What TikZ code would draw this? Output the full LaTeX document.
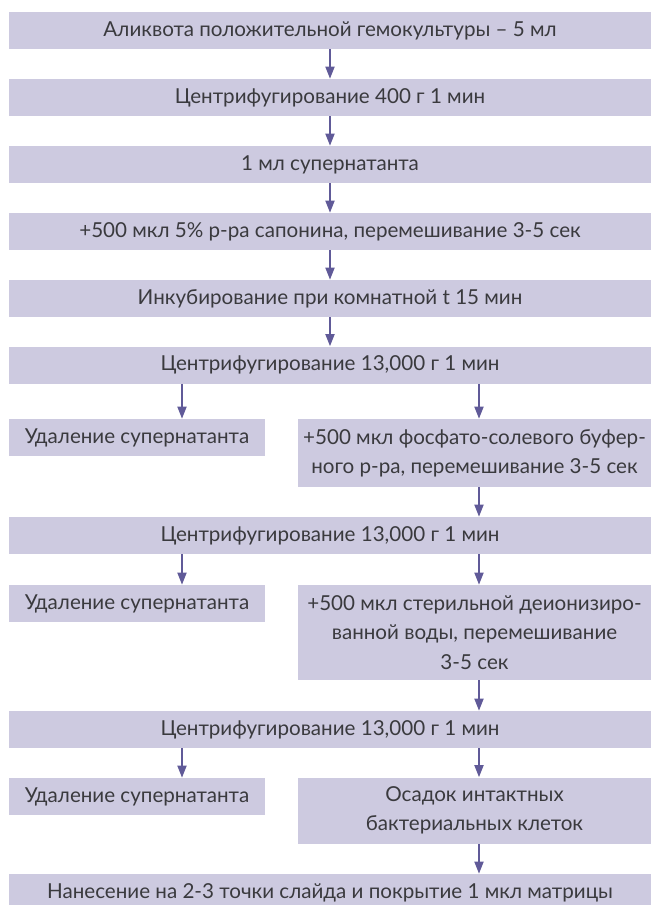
\documentclass[tikz,border=0pt]{standalone}
\usepackage{fontspec}
\setmainfont{Lato}
\usepackage{tikz}
\usetikzlibrary{arrows.meta,positioning,calc}
\usepackage{xcolor}
\definecolor{boxlilac}{RGB}{205,202,224}
\definecolor{arrowplum}{RGB}{96,90,152}
\definecolor{textgrey}{RGB}{58,58,62}

\begin{document}
\begin{tikzpicture}[x=0.5pt,y=-0.5pt,
    stepbox/.style={fill=boxlilac, text=textgrey, inner sep=0pt, align=center,
        font=\fontsize{10.3}{14.6}\selectfont},
    mainbox/.style={stepbox, minimum width=321pt, minimum height=18.5pt},
    leftbox/.style={stepbox, minimum width=128pt, minimum height=18.5pt},
    rightbox/.style={stepbox, minimum width=176.5pt},
    arr/.style={draw=arrowplum, line width=0.6pt, -{Triangle[length=6pt,width=4.6pt,fill=arrowplum]}}]
    \useasboundingbox (0,0) rectangle (650,905);

    % --- Main column ---
    \node[mainbox] (m1) at (330,30.5) {Аликвота положительной гемокультуры – 5 мл};
    \node[mainbox] (m2) at (330,97.5) {Центрифугирование 400 г 1 мин};
    \node[mainbox] (m3) at (330,164.5) {1 мл супернатанта};
    \node[mainbox] (m4) at (330,231.5) {+500 мкл 5\% р-ра сапонина, перемешивание 3-5 сек};
    \node[mainbox] (m5) at (330,298.5) {Инкубирование при комнатной t 15 мин};
    \node[mainbox] (m6) at (330,365) {Центрифугирование 13,000 г 1 мин};

    % --- First split ---
    \node[leftbox] (la) at (137,437.5) {Удаление супернатанта};
    \node[rightbox, minimum height=34pt] (ra) at (474.5,453)
        {+500 мкл фосфато-солевого буфер-\\ного р-ра, перемешивание 3-5 сек};
    \node[mainbox] (m7) at (330,535.5) {Центрифугирование 13,000 г 1 мин};

    % --- Second split ---
    \node[leftbox] (lb) at (137,603.5) {Удаление супернатанта};
    \node[rightbox, minimum height=47.5pt] (rb) at (474.5,632.5)
        {+500 мкл стерильной деионизиро-\\ванной воды, перемешивание\\3-5 сек};
    \node[mainbox] (m8) at (330,729.5) {Центрифугирование 13,000 г 1 мин};

    % --- Third split ---
    \node[leftbox] (lc) at (137,796.5) {Удаление супернатанта};
    \node[rightbox, minimum height=33pt] (rc) at (474.5,810.5)
        {Осадок интактных\\бактериальных клеток};
    \node[mainbox] (m9) at (330,892.5) {Нанесение на 2-3 точки слайда и покрытие 1 мкл матрицы};

    % arrow columns
    \coordinate (xl) at (182,0);
    \coordinate (xr) at (479,0);

    \foreach \a/\b in {m1/m2,m2/m3,m3/m4,m4/m5,m5/m6} {
        \draw[arr] (\a.south) -- (\b.north);
    }
    \foreach \a/\b in {m6/la,m7/lb,m8/lc} {
        \draw[arr] (\a.south -| xl) -- (\b.north -| xl);
    }
    \foreach \a/\b in {m6/ra,ra/m7,m7/rb,rb/m8,m8/rc,rc/m9} {
        \draw[arr] (\a.south -| xr) -- (\b.north -| xr);
    }
\end{tikzpicture}
\end{document}
